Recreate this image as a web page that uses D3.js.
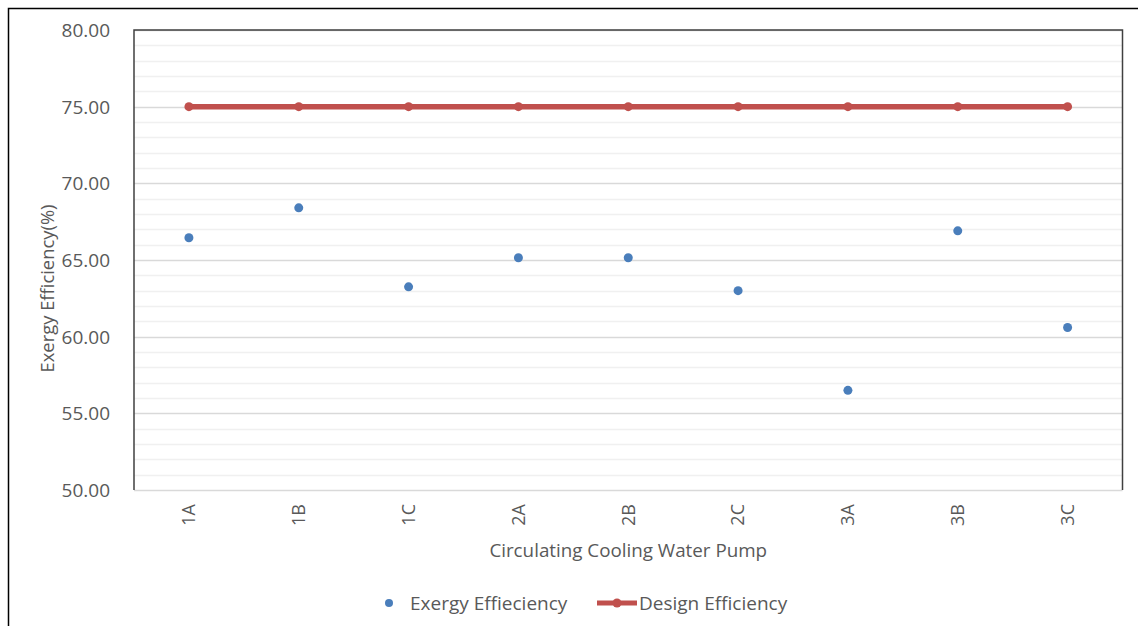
<!DOCTYPE html>
<html>
<head>
<meta charset="utf-8">
<script src="https://cdn.jsdelivr.net/npm/d3@7"></script>
<style>
  body { margin: 0; background: #fff; }
  text { font-family: "Open Sans", sans-serif; fill: #595959; }
</style>
</head>
<body>
<svg id="chart" width="1138" height="626"></svg>
<script>
// data
var pumps = ["1A", "1B", "1C", "2A", "2B", "2C", "3A", "3B", "3C"];
var exergyEff = [66.45, 68.4, 63.25, 65.15, 65.15, 63.0, 56.5, 66.9, 60.6];
var designEff = [75, 75, 75, 75, 75, 75, 75, 75, 75];
var yTicks = [50, 55, 60, 65, 70, 75, 80];

var margin = {top: 30, right: 15.5, bottom: 136, left: 134},
    width = 1138 - margin.left - margin.right,
    height = 626 - margin.top - margin.bottom;

var svg = d3.select("#chart");

// outer chart frame
svg.append("rect")
  .attr("x", 8.5).attr("y", 8.5)
  .attr("width", 1140).attr("height", 630)
  .attr("fill", "none")
  .attr("stroke", "#000")
  .attr("stroke-width", 1.5);

var g = svg.append("g")
  .attr("transform", "translate(" + margin.left + "," + margin.top + ")");

var x = d3.scaleBand()
  .domain(pumps)
  .range([0, width]);

var y = d3.scaleLinear()
  .domain([50, 80])
  .range([height, 0]);

// minor gridlines (every 1)
g.append("g")
  .selectAll("line")
  .data(d3.range(51, 80).filter(function(d) { return d % 5 != 0; }))
  .join("line")
  .attr("x1", 0).attr("x2", width)
  .attr("y1", function(d) { return Math.round(y(d)) + 0.5; })
  .attr("y2", function(d) { return Math.round(y(d)) + 0.5; })
  .attr("stroke", "#f0f0f0")
  .attr("stroke-width", 1.5);

// major gridlines
g.append("g")
  .selectAll("line")
  .data(yTicks)
  .join("line")
  .attr("x1", 0).attr("x2", width)
  .attr("y1", function(d) { return Math.round(y(d)) + 0.5; })
  .attr("y2", function(d) { return Math.round(y(d)) + 0.5; })
  .attr("stroke", "#d9d9d9")
  .attr("stroke-width", 1.5);

// plot area border (left, top, right)
g.append("path")
  .attr("d", "M0," + height + "V0H" + width + "V" + height)
  .attr("fill", "none")
  .attr("stroke", "#404040")
  .attr("stroke-width", 1.5);

// y axis labels
var yAxis = g.append("g")
  .attr("transform", "translate(-21,0)")
  .call(d3.axisLeft(y).tickValues(yTicks).tickFormat(d3.format(".2f")).tickSize(0));
yAxis.select(".domain").remove();
yAxis.selectAll("text")
  .style("font-size", "19px")
  .style("font-family", "'Open Sans', sans-serif")
  .attr("fill", "#595959")
  .attr("dy", "0.35em");

// x axis labels, rotated
var xAxis = g.append("g")
  .attr("transform", "translate(0," + height + ")")
  .call(d3.axisBottom(x).tickSize(0));
xAxis.select(".domain").remove();
xAxis.selectAll("text")
  .style("font-size", "18px")
  .style("font-family", "'Open Sans', sans-serif")
  .attr("fill", "#595959")
  .attr("transform", "rotate(-90)")
  .attr("x", -14)
  .attr("y", 0)
  .attr("dy", "0.35em")
  .style("text-anchor", "end");

// axis titles
g.append("text")
  .attr("x", width / 2)
  .attr("y", height + 67)
  .style("text-anchor", "middle")
  .style("font-size", "18.8px")
  .text("Circulating Cooling Water Pump");

svg.append("text")
  .attr("transform", "translate(54," + 288.5 + ") rotate(-90)")
  .style("text-anchor", "middle")
  .style("font-size", "18.4px")
  .text("Exergy Efficiency(%)");

var cx = function(d, i) { return x(pumps[i]) + x.bandwidth() / 2; };

// design efficiency line
var line = d3.line()
  .x(function(d, i) { return cx(d, i); })
  .y(function(d) { return y(d); });

g.append("path")
  .datum(designEff)
  .attr("d", line)
  .attr("fill", "none")
  .attr("stroke", "#C0504D")
  .attr("stroke-width", 5.5);

g.append("g")
  .selectAll("circle")
  .data(designEff)
  .join("circle")
  .attr("cx", cx)
  .attr("cy", function(d) { return y(d); })
  .attr("r", 4.5)
  .attr("fill", "#C0504D");

// exergy efficiency points
g.append("g")
  .selectAll("circle")
  .data(exergyEff)
  .join("circle")
  .attr("cx", cx)
  .attr("cy", function(d) { return y(d); })
  .attr("r", 4.5)
  .attr("fill", "#4A7EBB");

// legend
var legend = svg.append("g");
legend.append("circle")
  .attr("cx", 389).attr("cy", 603).attr("r", 4)
  .attr("fill", "#4A7EBB");
legend.append("text")
  .attr("x", 410).attr("y", 603).attr("dy", "0.35em")
  .style("font-size", "19px")
  .text("Exergy Effieciency");
legend.append("line")
  .attr("x1", 597).attr("x2", 637)
  .attr("y1", 603).attr("y2", 603)
  .attr("stroke", "#C0504D")
  .attr("stroke-width", 5);
legend.append("circle")
  .attr("cx", 617).attr("cy", 603).attr("r", 4.5)
  .attr("fill", "#C0504D");
legend.append("text")
  .attr("x", 639).attr("y", 603).attr("dy", "0.35em")
  .style("font-size", "19px")
  .text("Design Efficiency");
</script>
</body>
</html>
